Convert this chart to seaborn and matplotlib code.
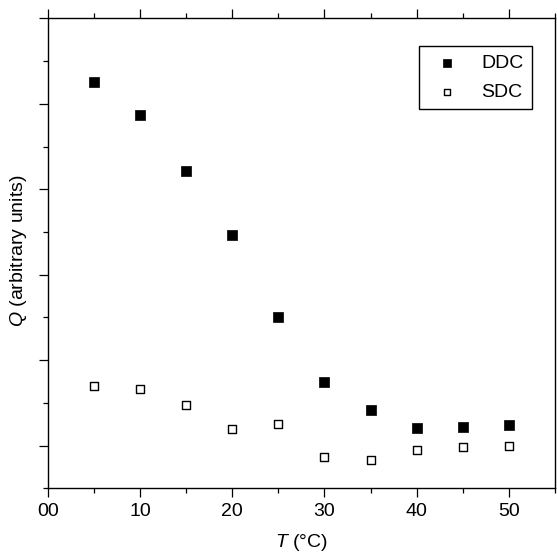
import matplotlib
matplotlib.use("Agg")
import matplotlib.pyplot as plt
from matplotlib.ticker import MultipleLocator, FixedLocator, NullFormatter
import seaborn as sns
import pandas as pd

# ---- data ----
temperature = [5, 10, 15, 20, 25, 30, 35, 40, 45, 50]
ddc_values = [4.75, 4.37, 3.71, 2.97, 2.01, 1.24, 0.92, 0.71, 0.72, 0.74]
sdc_values = [1.20, 1.16, 0.97, 0.69, 0.75, 0.37, 0.33, 0.45, 0.48, 0.49]
x_tick_values = [0, 10, 20, 30, 40, 50]
x_tick_labels = ["00", "10", "20", "30", "40", "50"]
series_names = ["DDC", "SDC"]

df = pd.DataFrame({
    "T": temperature * 2,
    "Q": ddc_values + sdc_values,
    "series": [series_names[0]] * len(temperature) + [series_names[1]] * len(temperature),
})

sns.set_style("ticks")
plt.rcParams["font.family"] = ["Liberation Sans", "DejaVu Sans"]
plt.rcParams["mathtext.fontset"] = "custom"
plt.rcParams["mathtext.it"] = "Liberation Sans:italic"
plt.rcParams["mathtext.rm"] = "Liberation Sans"
plt.rcParams["text.color"] = "black"
plt.rcParams["axes.labelcolor"] = "black"
plt.rcParams["xtick.color"] = "black"
plt.rcParams["ytick.color"] = "black"
plt.rcParams["xtick.labelcolor"] = "black"
plt.rcParams["ytick.labelcolor"] = "black"

FS = 14

fig = plt.figure(figsize=(5.57, 5.52), dpi=100)
ax = fig.add_axes([0.0856, 0.1154, 0.9108, 0.8514])

sns.scatterplot(data=df[df.series == "DDC"], x="T", y="Q", ax=ax,
                marker="s", s=42, color="black", edgecolor="black",
                linewidth=0.5, label="DDC", zorder=3)
sns.scatterplot(data=df[df.series == "SDC"], x="T", y="Q", ax=ax,
                marker="s", s=28, facecolor="white", edgecolor="black",
                linewidth=1.0, label="SDC", zorder=3)

ax.set_xlim(0, 55)
ax.set_ylim(0, 5.5)

ax.xaxis.set_major_locator(FixedLocator(x_tick_values))
ax.set_xticklabels(x_tick_labels)
ax.xaxis.set_minor_locator(MultipleLocator(5))
ax.yaxis.set_major_locator(FixedLocator([0.5, 1.5, 2.5, 3.5, 4.5, 5.5]))
ax.yaxis.set_minor_locator(MultipleLocator(1))
ax.yaxis.set_major_formatter(NullFormatter())

ax.tick_params(axis="x", which="both", direction="out", top=True, bottom=True,
               labeltop=False, labelsize=FS, pad=4, labelcolor="black")
ax.tick_params(axis="y", which="both", direction="out", left=True, right=False,
               labelleft=False)
ax.tick_params(which="major", length=6.5, width=0.9, color="black")
ax.tick_params(which="minor", length=3.5, width=0.9, color="black")

for sp in ax.spines.values():
    sp.set_visible(True)
    sp.set_linewidth(1.0)
    sp.set_color("black")

ax.set_xlabel(r"$T$ (°C)", fontsize=FS, labelpad=9, color="black")
ax.set_ylabel(r"$Q$ (arbitrary units)", fontsize=FS, color="black")
ax.yaxis.set_label_coords(-0.036, 0.505)

leg = ax.legend(loc="upper right", bbox_to_anchor=(0.955, 0.941),
                borderaxespad=0.0,
                frameon=True, fancybox=False, shadow=False, fontsize=FS,
                markerscale=0.78, handletextpad=0.75, borderpad=0.45,
                labelspacing=0.55, handlelength=2.0, alignment="right",
                labelcolor="black")
leg.get_frame().set_edgecolor("black")
leg.get_frame().set_linewidth(1.0)
leg.get_frame().set_alpha(1.0)

fig.savefig("out.png", dpi=100)
